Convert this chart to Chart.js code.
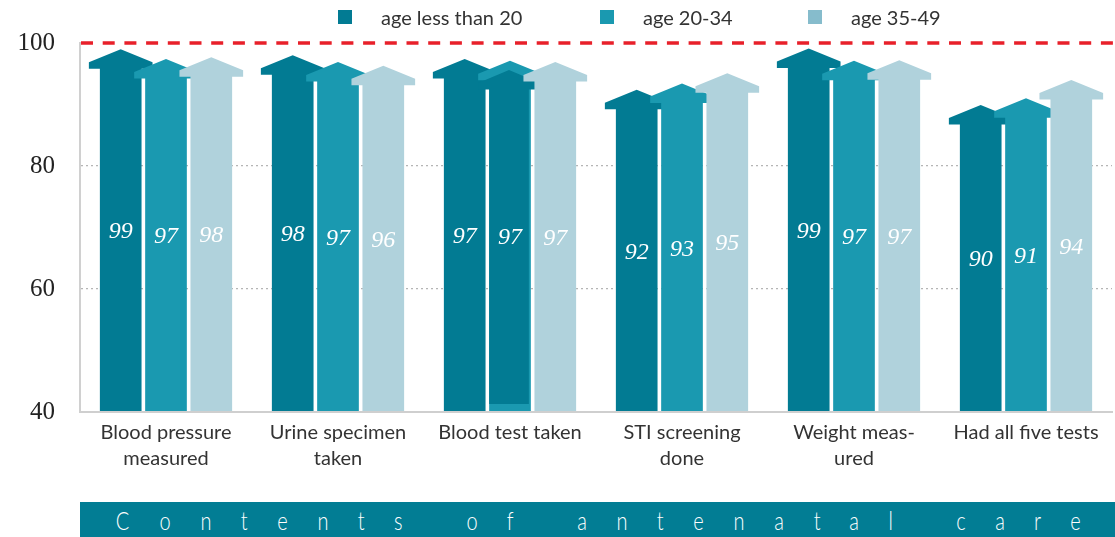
<!DOCTYPE html>
<html>
<head>
<meta charset="utf-8">
<script src="https://cdn.jsdelivr.net/npm/chart.js@4.4.1/dist/chart.umd.min.js"></script>
<style>
  html, body { margin: 0; padding: 0; background: #fff; }
  #wrap { position: relative; width: 1115px; height: 537px; overflow: hidden; }
  #box { position: absolute; left: 0; top: 0; width: 1115px; height: 490px; }
  #legend { position: absolute; top: 4px; left: 0; height: 26px; font-family: Lato, "Open Sans", sans-serif; font-size: 20px; color: #333; }
  #legend .item { position: absolute; top: 0; white-space: nowrap; line-height: 26px; }
  #legend .sw { position: absolute; top: 6px; left: 0; width: 14px; height: 14px; }
  #legend .tx { position: absolute; left: 43px; top: 0; }
  #banner { position: absolute; left: 80px; top: 502px; width: 1035px; height: 35px; background: #027d94;
            display: flex; justify-content: space-between; align-items: center; box-sizing: border-box;
            padding: 0 33px 0 34px; color: #fff; font-family: Lato, sans-serif;
            font-weight: 300; font-size: 25px; }
  #banner span { display: inline-block; white-space: pre; transform: scaleX(0.8); }
</style>
</head>
<body>
<div id="wrap">
  <div id="box"><canvas id="careChart"></canvas></div>
  <div id="legend"></div>
  <div id="banner"></div>
</div>
<script>
// categories (x axis), two lines each
const categories = [
  ['Blood pressure', 'measured'],
  ['Urine specimen', 'taken'],
  'Blood test taken',
  ['STI screening', 'done'],
  ['Weight meas-', 'ured'],
  'Had all five tests'
];

const seriesNames = ['age less than 20', 'age 20-34', 'age 35-49'];

// percent, read from the arrow tips
const ageUnder20 = [99, 98, 97.4, 92.4, 99.1, 89.9];
const age20to34 = [97.4, 96.9, 97.1, 93.4, 97.1, 91];
const age35to49 = [97.7, 96.3, 96.9, 95.1, 97.2, 94];

const yTicks = [40, 60, 80, 100];
const targetLine = 100;
const axisTitle = 'Contents of antenatal care';

const barColors = ['#027b93', '#1a99b0', '#b0d2dc'];
const legendColors = ['#027b93', '#1a99b0', '#86bccc'];

// legend (html)
const legendLeft = [338, 600, 808];
const legendEl = document.getElementById('legend');
seriesNames.forEach((name, i) => {
  const it = document.createElement('div');
  it.className = 'item';
  it.style.left = legendLeft[i] + 'px';
  it.innerHTML = '<span class="sw" style="background:' + legendColors[i] + '"></span><span class="tx">' + name + '</span>';
  legendEl.appendChild(it);
});

// banner with spread out letters
const banner = document.getElementById('banner');
axisTitle.split('').forEach(ch => {
  const s = document.createElement('span');
  s.textContent = ch;
  banner.appendChild(s);
});

function drawArrow(ctx, x, top, base, w, color) {
  const half = w / 2, over = 11, shoulder = 13, headBottom = 19.5;
  ctx.beginPath();
  ctx.moveTo(x, top);
  ctx.lineTo(x + half + over, top + shoulder);
  ctx.lineTo(x + half + over, top + headBottom);
  ctx.lineTo(x + half, top + headBottom);
  ctx.lineTo(x + half, base);
  ctx.lineTo(x - half, base);
  ctx.lineTo(x - half, top + headBottom);
  ctx.lineTo(x - half - over, top + headBottom);
  ctx.lineTo(x - half - over, top + shoulder);
  ctx.closePath();
  ctx.fillStyle = color;
  ctx.fill();
}

const arrowBars = {
  id: 'arrowBars',
  beforeDatasetDraw() {
    return false; // arrows are drawn below instead of plain bars
  },
  afterDatasetsDraw(chart) {
    const ctx = chart.ctx;
    const y = chart.scales.y;
    const bottom = y.getPixelForValue(y.min) - 1;
    ctx.save();
    chart.data.datasets.forEach((ds, di) => {
      const meta = chart.getDatasetMeta(di);
      meta.data.forEach((bar, i) => {
        const p = bar.getProps(['x', 'y', 'width'], true);
        drawArrow(ctx, p.x, p.y, bottom, p.width, ds.backgroundColor);
        // odd darker fill in the middle "Blood test taken" arrow
        if (di === 1 && i === 2) {
          drawArrow(ctx, p.x - 1, y.getPixelForValue(ds.data[i] - 1.5), bottom - 7, p.width - 2, barColors[0]);
        }
      });
    });
    // value labels
    ctx.font = 'italic 24px "Liberation Serif", "DejaVu Serif", serif';
    ctx.fillStyle = '#fff';
    ctx.textAlign = 'center';
    ctx.textBaseline = 'middle';
    chart.data.datasets.forEach((ds, di) => {
      const meta = chart.getDatasetMeta(di);
      meta.data.forEach((bar, i) => {
        const p = bar.getProps(['x', 'y'], true);
        ctx.fillText(String(Math.round(ds.data[i])), p.x, (p.y + bottom) / 2 + 2);
      });
    });
    ctx.restore();
  },
  afterDraw(chart) {
    const ctx = chart.ctx;
    const yy = chart.scales.y.getPixelForValue(targetLine);
    ctx.save();
    ctx.strokeStyle = '#e8202a';
    ctx.lineWidth = 3.5;
    ctx.setLineDash([12, 9.7]);
    ctx.beginPath();
    ctx.moveTo(chart.chartArea.left + 1, yy);
    ctx.lineTo(chart.width, yy);
    ctx.stroke();
    ctx.restore();
  }
};

new Chart(document.getElementById('careChart').getContext('2d'), {
  type: 'bar',
  data: {
    labels: categories,
    datasets: [
      { label: seriesNames[0], data: ageUnder20, backgroundColor: barColors[0] },
      { label: seriesNames[1], data: age20to34, backgroundColor: barColors[1] },
      { label: seriesNames[2], data: age35to49, backgroundColor: barColors[2] }
    ]
  },
  options: {
    responsive: true,
    maintainAspectRatio: false,
    animation: false,
    categoryPercentage: 0.79,
    barPercentage: 0.92,
    layout: { padding: { top: 43, right: 3, left: 0, bottom: 0 } },
    plugins: {
      legend: { display: false },
      tooltip: { enabled: false }
    },
    scales: {
      x: {
        grid: { display: false },
        border: { display: true, color: '#cfcfcf', width: 2 },
        ticks: {
          color: '#333',
          padding: 0,
          maxRotation: 0,
          autoSkip: false,
          font: { family: 'Lato, "Open Sans", sans-serif', size: 20, lineHeight: 1.3 }
        },
        afterFit: s => { s.height = 78; }
      },
      y: {
        min: 40,
        max: 100,
        afterBuildTicks: s => { s.ticks = yTicks.map(v => ({ value: v })); },
        grid: {
          drawTicks: false,
          color: c => (c.tick.value === 60 || c.tick.value === 80) ? '#b5b5b5' : 'rgba(0,0,0,0)',
          lineWidth: 1.3
        },
        border: { display: true, color: '#d0d0d0', width: 2, dash: [2, 3] },
        ticks: {
          color: '#222',
          padding: 25,
          font: { family: '"Liberation Serif", "DejaVu Serif", serif', size: 25 }
        },
        afterFit: s => { s.width = 80; }
      }
    }
  },
  plugins: [arrowBars]
});
</script>
</body>
</html>
